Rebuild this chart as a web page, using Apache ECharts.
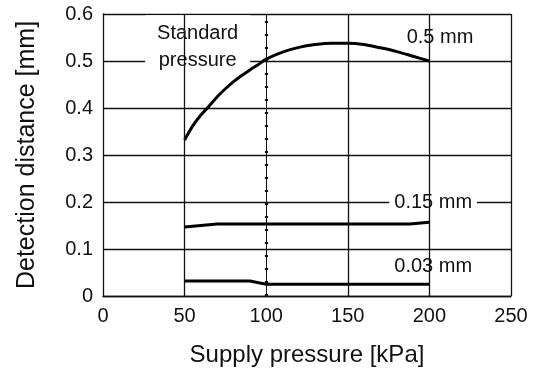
<!DOCTYPE html>
<html><head><meta charset="utf-8">
<script src="https://cdn.jsdelivr.net/npm/echarts@6/dist/echarts.min.js"></script>
<style>html,body{margin:0;padding:0;background:#fff}#c{width:538px;height:376px}</style>
</head><body><div id="c"></div>
<script>
// ---- data ----
const xTicks = [0, 50, 100, 150, 200, 250];
const yTicks = [0, 0.1, 0.2, 0.3, 0.4, 0.5, 0.6];
const curve05X = [50, 55, 60, 65, 70, 75, 80, 85, 90, 95, 100, 110, 120, 130, 140, 150, 160, 170, 180, 190, 200];
const curve05Y = [0.332, 0.362, 0.385, 0.404, 0.424, 0.441, 0.456, 0.469, 0.481, 0.492, 0.504, 0.519, 0.529, 0.535, 0.538, 0.538, 0.535, 0.528, 0.520, 0.510, 0.500];
const curve015X = [50, 70, 188, 200];
const curve015Y = [0.147, 0.153, 0.153, 0.157];
const curve003X = [50, 90, 100, 200];
const curve003Y = [0.032, 0.032, 0.025, 0.025];
const solidGridX = [50, 150, 200, 250];
const standardX = 100;
const labels = ['0.5 mm', '0.15 mm', '0.03 mm', 'Standard\npressure'];
const labelPos = [[206.5, 0.549], [202.3, 0.198], [202.3, 0.062], [58.0, 0.529]];

const pairs = (xs, ys) => xs.map((x, i) => [x, ys[i]]);
const FONT = 'Liberation Sans, Arial, sans-serif';
const INK = '#111';
const pads = [[2, 4], [1, 5], [1, 5], [5, 12, 5, 12]];
const lineHeights = [24, 24, 24, 27];

const chart = echarts.init(document.getElementById('c'), null, { renderer: 'canvas' });
chart.setOption({
  animation: false,
  backgroundColor: '#fff',
  grid: { left: 103, right: 27, top: 14, bottom: 80, containLabel: false },
  xAxis: {
    type: 'value', min: xTicks[0], max: xTicks[xTicks.length - 1], interval: 50,
    name: 'Supply pressure [kPa]', nameLocation: 'middle', nameGap: 47,
    nameTextStyle: { fontSize: 24, color: INK, fontFamily: FONT },
    axisLine: { show: true, lineStyle: { color: INK, width: 1.3 } },
    axisTick: { show: false },
    axisLabel: { fontSize: 20, color: INK, fontFamily: FONT, margin: 10 },
    splitLine: { show: false }
  },
  yAxis: {
    type: 'value', min: yTicks[0], max: yTicks[yTicks.length - 1], interval: 0.1,
    name: 'Detection distance [mm]', nameLocation: 'middle', nameGap: 63,
    nameTextStyle: { fontSize: 25, color: INK, fontFamily: FONT },
    axisLine: { show: true, lineStyle: { color: INK, width: 1.3 } },
    axisTick: { show: false },
    axisLabel: { fontSize: 20, color: INK, fontFamily: FONT, margin: 10,
      formatter: v => (v === 0 ? '0' : v.toFixed(1)) },
    splitLine: { show: true, lineStyle: { color: INK, width: 1.3 } }
  },
  series: [
    {
      type: 'line', data: [], silent: true, z: 1,
      markLine: {
        silent: true, symbol: 'none', label: { show: false },
        data: solidGridX.map(v => ({ xAxis: v, lineStyle: { color: INK, width: 1.3, type: 'solid' } }))
          .concat([
            { xAxis: standardX, lineStyle: { color: INK, width: 1, type: 'solid' } },
            { xAxis: standardX, lineStyle: { color: INK, width: 3.2, type: [2, 11], dashOffset: 0 } }
          ])
      }
    },
    {
      type: 'scatter', silent: true, z: 2,
      data: labels.map((t, i) => ({
        value: labelPos[i],
        label: { padding: pads[i], lineHeight: lineHeights[i] }
      })),
      symbol: 'circle', symbolSize: 1,
      itemStyle: { color: 'transparent', opacity: 1 },
      label: {
        show: true, position: 'inside', color: INK, fontFamily: FONT, opacity: 1,
        fontSize: 20, backgroundColor: '#fff',
        formatter: p => labels[p.dataIndex]
      },
      emphasis: { disabled: true }
    },
    {
      type: 'line', data: pairs(curve05X, curve05Y), smooth: 0.3, showSymbol: false, z: 3,
      lineStyle: { color: '#000', width: 3 }
    },
    {
      type: 'line', data: pairs(curve015X, curve015Y), smooth: false, showSymbol: false, z: 3,
      lineStyle: { color: '#000', width: 3 }
    },
    {
      type: 'line', data: pairs(curve003X, curve003Y), smooth: false, showSymbol: false, z: 3,
      lineStyle: { color: '#000', width: 3 }
    }
  ]
});
</script></body></html>
